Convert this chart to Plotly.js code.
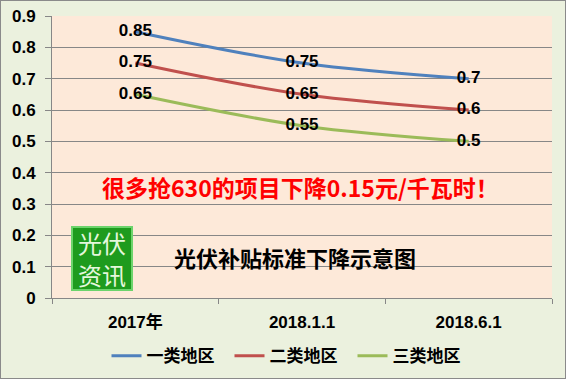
<!DOCTYPE html>
<html><head><meta charset="utf-8">
<script src="https://cdn.plot.ly/plotly-3.0.1.min.js"></script>
<style>
html,body{margin:0;padding:0;background:#EBF1DE;}
#wrap{position:relative;width:566px;height:379px;}
#chart{position:absolute;left:0;top:0;width:566px;height:379px;}
#frame{position:absolute;left:0;top:0;width:566px;height:379px;box-sizing:border-box;border:1px solid #8a8a8a;pointer-events:none;}
</style></head>
<body><div id="wrap"><div id="chart"></div><div id="frame"></div></div>
<script>
var categories = ['2017年', '2018.1.1', '2018.6.1'];
var seriesNames = ['一类地区', '二类地区', '三类地区'];
var class1 = [0.85, 0.75, 0.7];
var class2 = [0.75, 0.65, 0.6];
var class3 = [0.65, 0.55, 0.5];
var yTickVals = [0, 0.1, 0.2, 0.3, 0.4, 0.5, 0.6, 0.7, 0.8, 0.9];
var yTickText = ['0', '0.1', '0.2', '0.3', '0.4', '0.5', '0.6', '0.7', '0.8', '0.9'];
var noteText = '很多抢630的项目下降0.15元/千瓦时！';
var titleText = '光伏补贴标准下降示意图';
var logoText = '光伏<br>资讯';

var colors = ['#4F81BD', '#C0504D', '#9BBB59'];
var allSeries = [class1, class2, class3];
var fontFam = 'Liberation Sans, Arial, Noto Sans CJK SC, sans-serif';

var traces = allSeries.map(function(vals, i){
  return {
    x: categories, y: vals, name: seriesNames[i], type: 'scatter',
    mode: 'lines+text',
    line: {color: colors[i], width: 3, shape: 'spline', smoothing: 1},
    text: vals.map(function(v){ return String(v); }),
    textposition: 'middle center',
    textfont: {family: fontFam, size: 17, color: '#000', weight: 'bold'},
    hoverinfo: 'skip', cliponaxis: false
  };
});

var layout = {
  width: 566, height: 379,
  margin: {l: 52, r: 14, t: 16, b: 81, autoexpand: false},
  paper_bgcolor: '#EBF1DE', plot_bgcolor: '#FDE9D9',
  showlegend: true,
  legend: {orientation: 'h', x: 0.478, xanchor: 'center', y: -0.206, yanchor: 'middle',
    font: {family: 'Noto Sans CJK SC, sans-serif', size: 17, color: '#000', weight: 'bold'},
    bgcolor: 'rgba(0,0,0,0)', entrywidthmode: 'pixels', entrywidth: 78},
  xaxis: {type: 'category', range: [-0.5, 2.5], showgrid: false,
    showline: true, linecolor: '#878787', linewidth: 1,
    ticks: 'outside', tickson: 'boundaries', ticklen: 5, tickcolor: '#878787',
    ticklabelstandoff: 9,
    tickfont: {family: fontFam + ', Noto Sans CJK SC', size: 17, color: '#000', weight: 'bold'},
    fixedrange: true},
  yaxis: {range: [0, 0.9], tickvals: yTickVals, ticktext: yTickText,
    showgrid: true, gridcolor: '#878787', gridwidth: 1, zeroline: false,
    showline: true, linecolor: '#878787', linewidth: 1,
    ticks: 'outside', ticklen: 6, tickcolor: '#878787', ticklabelstandoff: 6,
    tickfont: {family: fontFam, size: 17, color: '#000', weight: 'bold'},
    fixedrange: true},
  annotations: [
    {xref: 'paper', yref: 'paper', x: 0.496, y: 0.394, xanchor: 'center', yanchor: 'middle',
      text: noteText, showarrow: false,
      font: {family: 'Noto Sans CJK SC, sans-serif', size: 23, color: '#FF0000', weight: 'bold'}},
    {xref: 'paper', yref: 'paper', x: 0.486, y: 0.145, xanchor: 'center', yanchor: 'middle',
      text: titleText, showarrow: false,
      font: {family: 'Noto Sans CJK SC, sans-serif', size: 22, color: '#000', weight: 'bold'}},
    {xref: 'paper', yref: 'paper', x: 0.1, y: 0.14, xanchor: 'center', yanchor: 'middle',
      text: logoText, showarrow: false,
      width: 58, height: 61, align: 'center', valign: 'middle',
      bgcolor: '#1E9B1E', bordercolor: '#6CD46C', borderwidth: 2, borderpad: 0,
      font: {family: 'Noto Sans CJK SC, sans-serif', size: 24, color: '#E4F7DC'}}
  ]
};

Plotly.newPlot('chart', traces, layout, {displayModeBar: false, staticPlot: true});
</script></body></html>
